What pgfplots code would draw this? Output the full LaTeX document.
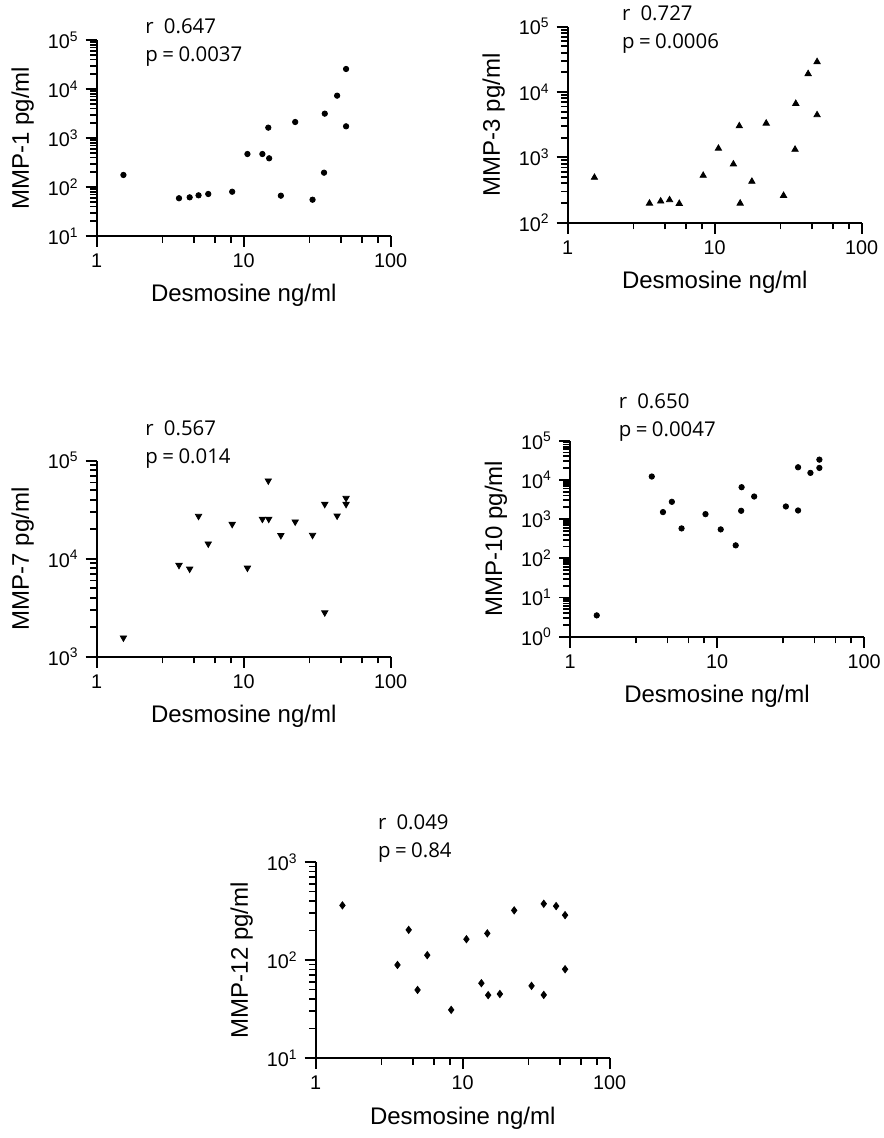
\documentclass[border=0pt]{standalone}
\usepackage{fontspec}
\setmainfont{Liberation Sans}
\newfontfamily\annfont{Open Sans}
\usepackage{pgfplots}
\pgfplotsset{compat=1.18}

\newcommand{\stat}[3]{%
  \node[anchor=base west, inner sep=0pt, font=\annfont\fontsize{10.2}{12}\selectfont] at (#1) {r\hspace{0.5em}#2};
  \node[anchor=base west, inner sep=0pt, font=\annfont\fontsize{10.2}{12}\selectfont] at ([yshift=-14.2pt]#1) {p\hspace{0.22em}=\hspace{0.22em}#3};
}

\begin{document}
\begin{tikzpicture}
\useasboundingbox (0,0) rectangle (441.5pt,-569pt);

% MMP-1
\begin{axis}[at={(48.35pt,-118pt)}, anchor=south west,
  scale only axis, width=147pt, height=98pt,
  xmode=log, ymode=log,
  xmin=1, xmax=100,
  axis x line*=bottom, axis y line*=left,
  axis line style={line width=1pt},
  tick align=outside,
  major tick length=5.5pt, minor tick length=3.3pt,
  tick style={line width=0.9pt, black},
  xtick={1,10,100}, xticklabels={1,10,100},
  minor xtick={2.8,4.6,6.4,8.2,28,46,64,82},
  tick label style={font=\fontsize{9.9}{11}\selectfont},
  xlabel={Desmosine ng/ml},
  label style={font=\fontsize{12}{14}\selectfont},
  xlabel style={at={(axis description cs:0.5,0)}, anchor=base, yshift=-33pt},
  ylabel style={at={(axis description cs:-0.252,0.5)}, anchor=center},
  clip=false,
  ymin=10, ymax=1e5, ylabel={MMP-1 pg/ml},
  ytick={1e1,1e2,1e3,1e4,1e5},
  yticklabels={10\textsuperscript{1},10\textsuperscript{2},10\textsuperscript{3},10\textsuperscript{4},10\textsuperscript{5}},
  minor ytick={2e1,3e1,4e1,5e1,6e1,7e1,8e1,9e1,2e2,3e2,4e2,5e2,6e2,7e2,8e2,9e2,2e3,3e3,4e3,5e3,6e3,7e3,8e3,9e3,2e4,3e4,4e4,5e4,6e4,7e4,8e4,9e4}]
\addplot[only marks, mark=*, mark size=1.35pt, black] coordinates {
  (1.52,176) (3.63,59) (4.29,61.5) (4.93,67.6) (5.74,72) (8.35,80)
  (10.6,471) (13.4,471) (14.7,1626) (14.9,385) (17.9,66.5) (22.4,2120)
  (29.4,55) (35.6,3140) (35.2,196) (43.2,7310) (49.7,25600) (49.7,1730)
};
\end{axis}

% MMP-3
\begin{axis}[at={(283.85pt,-111.35pt)}, anchor=south west,
  scale only axis, width=147pt, height=98pt,
  xmode=log, ymode=log,
  xmin=1, xmax=100,
  axis x line*=bottom, axis y line*=left,
  axis line style={line width=1pt},
  tick align=outside,
  major tick length=5.5pt, minor tick length=3.3pt,
  tick style={line width=0.9pt, black},
  xtick={1,10,100}, xticklabels={1,10,100},
  minor xtick={2.8,4.6,6.4,8.2,28,46,64,82},
  tick label style={font=\fontsize{9.9}{11}\selectfont},
  xlabel={Desmosine ng/ml},
  label style={font=\fontsize{12}{14}\selectfont},
  xlabel style={at={(axis description cs:0.5,0)}, anchor=base, yshift=-33pt},
  ylabel style={at={(axis description cs:-0.252,0.5)}, anchor=center},
  clip=false,
  ymin=100, ymax=1e5, ylabel={MMP-3 pg/ml},
  ytick={1e2,1e3,1e4,1e5},
  yticklabels={10\textsuperscript{2},10\textsuperscript{3},10\textsuperscript{4},10\textsuperscript{5}},
  minor ytick={2e2,3e2,4e2,5e2,6e2,7e2,8e2,9e2,2e3,3e3,4e3,5e3,6e3,7e3,8e3,9e3,2e4,3e4,4e4,5e4,6e4,7e4,8e4,9e4}]
\addplot[only marks, mark=triangle*, mark size=1.8pt, black] coordinates {
  (1.52,491) (3.6,198) (4.29,213) (4.93,223) (5.74,196) (8.35,527)
  (10.6,1370) (13.4,787) (14.7,3020) (14.9,198) (17.9,427) (22.4,3320)
  (29.4,260) (35.6,6650) (35.2,1320) (43.2,19000) (49.7,29000) (49.7,4460)
};
\end{axis}

% MMP-7
\begin{axis}[at={(48.35pt,-328.35pt)}, anchor=south west,
  scale only axis, width=147pt, height=98pt,
  xmode=log, ymode=log,
  xmin=1, xmax=100,
  axis x line*=bottom, axis y line*=left,
  axis line style={line width=1pt},
  tick align=outside,
  major tick length=5.5pt, minor tick length=3.3pt,
  tick style={line width=0.9pt, black},
  xtick={1,10,100}, xticklabels={1,10,100},
  minor xtick={2.8,4.6,6.4,8.2,28,46,64,82},
  tick label style={font=\fontsize{9.9}{11}\selectfont},
  xlabel={Desmosine ng/ml},
  label style={font=\fontsize{12}{14}\selectfont},
  xlabel style={at={(axis description cs:0.5,0)}, anchor=base, yshift=-33pt},
  ylabel style={at={(axis description cs:-0.252,0.5)}, anchor=center},
  clip=false,
  ymin=1000, ymax=1e5, ylabel={MMP-7 pg/ml},
  ytick={1e3,1e4,1e5},
  yticklabels={10\textsuperscript{3},10\textsuperscript{4},10\textsuperscript{5}},
  minor ytick={2e3,3e3,4e3,5e3,6e3,7e3,8e3,9e3,2e4,3e4,4e4,5e4,6e4,7e4,8e4,9e4}]
\addplot[only marks, mark=triangle*, mark options={rotate=180}, mark size=1.8pt, black] coordinates {
  (1.52,1560) (3.63,8590) (4.29,7870) (4.93,27200) (5.74,14200) (8.35,22500)
  (10.6,8050) (13.4,25400) (14.7,62500) (14.8,25400) (17.9,17300) (22.4,23800)
  (29.4,17400) (35.6,36000) (35.6,2820) (43.2,27400) (49.7,41500) (49.7,36000)
};
\end{axis}

% MMP-10
\begin{axis}[at={(285pt,-318.35pt)}, anchor=south west,
  scale only axis, width=147pt, height=98pt,
  xmode=log, ymode=log,
  xmin=1, xmax=100,
  axis x line*=bottom, axis y line*=left,
  axis line style={line width=1pt},
  tick align=outside,
  major tick length=5.5pt, minor tick length=3.3pt,
  tick style={line width=0.9pt, black},
  xtick={1,10,100}, xticklabels={1,10,100},
  minor xtick={2.8,4.6,6.4,8.2,28,46,64,82},
  tick label style={font=\fontsize{9.9}{11}\selectfont},
  xlabel={Desmosine ng/ml},
  label style={font=\fontsize{12}{14}\selectfont},
  xlabel style={at={(axis description cs:0.5,0)}, anchor=base, yshift=-33pt},
  ylabel style={at={(axis description cs:-0.252,0.5)}, anchor=center},
  clip=false,
  ymin=1, ymax=1e5, ylabel={MMP-10 pg/ml},
  ytick={1,1e1,1e2,1e3,1e4,1e5},
  yticklabels={10\textsuperscript{0},10\textsuperscript{1},10\textsuperscript{2},10\textsuperscript{3},10\textsuperscript{4},10\textsuperscript{5}},
  minor ytick={2,3,4,5,6,7,8,9,2e1,3e1,4e1,5e1,6e1,7e1,8e1,9e1,2e2,3e2,4e2,5e2,6e2,7e2,8e2,9e2,2e3,3e3,4e3,5e3,6e3,7e3,8e3,9e3,2e4,3e4,4e4,5e4,6e4,7e4,8e4,9e4}]
\addplot[only marks, mark=*, mark size=1.35pt, black] coordinates {
  (1.52,3.5) (3.6,12200) (4.29,1510) (4.93,2760) (5.74,579) (8.35,1340)
  (10.6,546) (13.4,214) (14.7,6510) (14.6,1630) (17.9,3770)
  (29.4,2100) (35.6,21000) (35.6,1660) (43.2,15100) (49.7,32900) (49.7,20200)
};
\end{axis}

% MMP-12
\begin{axis}[at={(157.85pt,-529pt)}, anchor=south west,
  scale only axis, width=147pt, height=98pt,
  xmode=log, ymode=log,
  xmin=1, xmax=100,
  axis x line*=bottom, axis y line*=left,
  axis line style={line width=1pt},
  tick align=outside,
  major tick length=5.5pt, minor tick length=3.3pt,
  tick style={line width=0.9pt, black},
  xtick={1,10,100}, xticklabels={1,10,100},
  minor xtick={2.8,4.6,6.4,8.2,28,46,64,82},
  tick label style={font=\fontsize{9.9}{11}\selectfont},
  xlabel={Desmosine ng/ml},
  label style={font=\fontsize{12}{14}\selectfont},
  xlabel style={at={(axis description cs:0.5,0)}, anchor=base, yshift=-33pt},
  ylabel style={at={(axis description cs:-0.252,0.5)}, anchor=center},
  clip=false,
  ymin=10, ymax=1000, ylabel={MMP-12 pg/ml},
  ytick={1e1,1e2,1e3},
  yticklabels={10\textsuperscript{1},10\textsuperscript{2},10\textsuperscript{3}},
  minor ytick={2e1,3e1,4e1,5e1,6e1,7e1,8e1,9e1,2e2,3e2,4e2,5e2,6e2,7e2,8e2,9e2}]
\addplot[only marks, mark=diamond*, mark size=1.8pt, black] coordinates {
  (1.52,361) (3.6,89) (4.29,203) (4.93,49.5) (5.74,112) (8.35,31)
  (10.6,163) (13.4,58) (14.7,187) (14.9,43.8) (17.9,45) (22.4,321)
  (29.4,54.5) (35.6,375) (35.6,44) (43.2,355) (49.7,287) (49.7,80.5)
};
\end{axis}

\stat{72.5pt,-16.7pt}{0.647}{0.0037}
\stat{310.8pt,-10.3pt}{0.727}{0.0006}
\stat{72.5pt,-217.5pt}{0.567}{0.014}
\stat{309.2pt,-204.3pt}{0.650}{0.0047}
\stat{188.8pt,-414.5pt}{0.049}{0.84}
\end{tikzpicture}
\end{document}
